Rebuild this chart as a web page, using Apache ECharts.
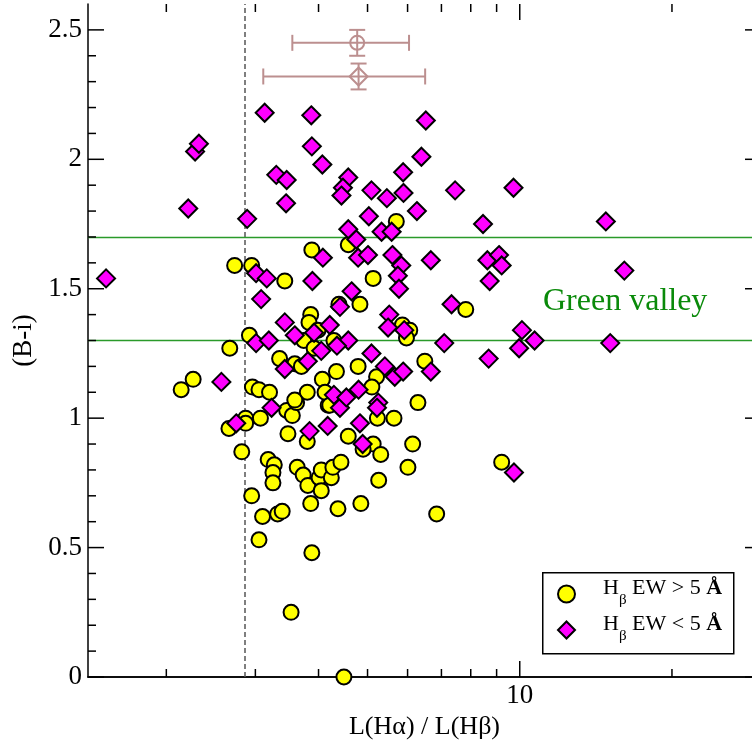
<!DOCTYPE html>
<html>
<head>
<meta charset="utf-8">
<script src="https://cdn.jsdelivr.net/npm/echarts@6/dist/echarts.min.js"></script>
<style>
  html, body { margin: 0; padding: 0; background: #fff; }
  #chart { width: 752px; height: 749px; }
</style>
</head>
<body>
<div id="chart"></div>
<script>
// Balmer decrement L(Hα)/L(Hβ) vs (B-i) colour

// Galaxies with Hβ EW > 5 Å
const strongX = [5.70, 3.88, 4.58, 2.73, 2.95, 3.43, 5.13, 4.83, 4.39, 7.82,
                 3.86, 3.83, 5.86, 6.06, 5.97, 3.99, 2.92, 2.67, 3.74, 4.29,
                 3.92, 3.35, 3.59, 3.70, 4.34, 4.79, 6.49, 5.21, 5.10, 6.29,
                 5.64, 5.23, 6.14, 5.13, 4.90, 5.31, 6.01, 5.26, 6.85, 9.21,
                 4.85, 2.14, 2.26, 2.96, 3.05, 3.20, 2.66, 2.87, 2.87, 3.07,
                 3.46, 3.55, 3.62, 3.48, 2.82, 3.80, 4.18, 4.58, 3.18, 3.27,
                 3.25, 3.25, 3.63, 3.73, 3.81, 4.01, 4.05, 4.24, 4.27, 4.43,
                 4.05, 3.86, 4.37, 2.95, 3.10, 3.32, 3.39, 3.05, 3.88, 3.53,
                 4.49, 3.80, 4.07, 4.12, 4.21, 3.59];
const strongY = [1.76, 1.65, 1.67, 1.59, 1.59, 1.53, 1.54, 1.44, 1.44, 1.42,
                 1.40, 1.37, 1.36, 1.34, 1.31, 1.34, 1.32, 1.27, 1.30, 1.30,
                 1.27, 1.23, 1.21, 1.20, 1.18, 1.20, 1.22, 1.16, 1.12, 1.06,
                 1.00, 1.00, 0.90, 0.90, 0.88, 0.86, 0.81, 0.76, 0.63, 0.83,
                 0.67, 1.11, 1.15, 1.12, 1.11, 1.10, 0.96, 1.00, 0.98, 1.00,
                 1.03, 1.01, 1.06, 0.94, 0.87, 0.91, 1.05, 0.93, 0.84, 0.82,
                 0.79, 0.75, 0.81, 0.78, 0.74, 0.77, 0.80, 0.77, 0.81, 0.83,
                 0.72, 0.67, 0.65, 0.70, 0.62, 0.63, 0.64, 0.53, 0.48, 0.25,
                 0.00, 1.10, 1.15, 1.10, 1.05, 1.07];

// Galaxies with Hβ EW < 5 Å
const weakX = [1.52, 2.28, 2.32, 2.21, 2.89, 3.13, 3.87, 3.88, 4.07, 3.30,
               3.46, 3.45, 4.58, 4.47, 4.44, 5.09, 5.03, 4.58, 4.75, 4.79,
               5.01, 4.08, 3.01, 3.16, 3.89, 3.08, 4.65, 4.41, 3.43, 3.59,
               4.21, 3.92, 3.01, 3.19, 4.58, 4.35, 4.05, 3.81, 3.43, 5.09,
               2.57, 6.52, 6.39, 5.88, 5.46, 5.89, 6.26, 7.45, 9.72, 8.46,
               14.8, 16.1, 5.33, 5.58, 5.60, 5.83, 5.74, 5.77, 6.67, 8.63,
               9.10, 9.21, 8.72, 5.52, 5.49, 5.91, 7.33, 7.09, 5.41, 5.66,
               5.88, 6.67, 4.80, 5.25, 8.68, 10.1, 10.7, 9.97, 15.1, 9.74,
               5.22, 4.83, 4.89, 2.75, 3.23, 3.84, 4.17, 4.41, 4.29, 4.54];
const weakY = [1.54, 2.03, 2.06, 1.81, 1.77, 2.18, 2.17, 2.05, 1.98, 1.94,
               1.92, 1.83, 1.93, 1.89, 1.86, 1.88, 1.78, 1.73, 1.69, 1.62,
               1.63, 1.62, 1.56, 1.54, 1.53, 1.46, 1.49, 1.43, 1.37, 1.32,
               1.36, 1.33, 1.29, 1.30, 1.30, 1.28, 1.26, 1.22, 1.19, 1.25,
               1.14, 2.15, 2.01, 1.95, 1.85, 1.87, 1.80, 1.88, 1.89, 1.75,
               1.76, 1.57, 1.72, 1.72, 1.63, 1.59, 1.55, 1.50, 1.61, 1.61,
               1.63, 1.59, 1.53, 1.40, 1.35, 1.34, 1.44, 1.29, 1.20, 1.16,
               1.18, 1.18, 1.11, 1.06, 1.23, 1.34, 1.30, 1.27, 1.29, 0.79,
               1.04, 0.98, 0.90, 0.98, 1.04, 0.95, 0.97, 1.04, 1.09, 1.08];

// Typical error bars for each class
const errCenterX = [4.77, 4.80];
const errCenterY = [2.45, 2.32];
const errLowX    = [3.55, 3.11];
const errHighX   = [6.04, 6.50];
const errLowY    = [2.40, 2.27];
const errHighY   = [2.50, 2.37];
const errMarker  = ['circle', 'diamond'];

// Axis ticks
const xMajorTicks = [10];
const xMinorTicks = [2, 3, 4, 5, 6, 7, 8, 9, 20];
const yMajorTicks = [0, 0.5, 1, 1.5, 2, 2.5];
const yMinorTicks = [0.1, 0.2, 0.3, 0.4, 0.6, 0.7, 0.8, 0.9, 1.1, 1.2, 1.3, 1.4,
                     1.6, 1.7, 1.8, 1.9, 2.1, 2.2, 2.3, 2.4];
const yLabels = ['0', '0.5', '1', '1.5', '2', '2.5'];

// Reference lines
const caseBDecrement = 2.86;
const valleyLow = 1.3;
const valleyHigh = 1.7;

const FONT = "'Liberation Serif', 'Times New Roman', serif";
const ERR_COLOR = '#bc8f8f';
const GREEN = '#0a8a0a';
const LINE_GREEN = '#2a9a2a';
const MAJOR_LEN = 16;
const MINOR_LEN = 8;

const toPairs = (xs, ys) => xs.map((x, i) => [x, ys[i]]);
const errData = errCenterX.map((x, i) =>
  [x, errCenterY[i], errLowX[i], errHighX[i], errLowY[i], errHighY[i]]);
const xTickData = xMajorTicks.concat(xMinorTicks).map(v => [v, 1]);
const yTickData = yMajorTicks.concat(yMinorTicks).map(v => [2, v]);

const axisLineStyle = { color: '#000', width: 1.5 };
const tickStyle = { stroke: '#000', lineWidth: 1.5 };

function logAxis(position, withLabel) {
  const ax = {
    type: 'log', logBase: 10, min: 1.4, max: 30, position,
    axisLine: { show: true, lineStyle: axisLineStyle },
    axisTick: { show: false },
    axisLabel: { show: withLabel, customValues: xMajorTicks, color: '#000',
                 fontFamily: FONT, fontSize: 27, margin: 5 },
    splitLine: { show: false }, minorTick: { show: false }, minorSplitLine: { show: false }
  };
  if (withLabel) {
    ax.name = 'L(Hα) / L(Hβ)';
    ax.nameLocation = 'middle';
    ax.nameGap = 33;
    ax.nameTextStyle = { color: '#000', fontFamily: FONT, fontSize: 26 };
  }
  return ax;
}

function valueAxis(position, withLabel) {
  const ax = {
    type: 'value', min: 0, max: 2.6, position,
    axisLine: { show: true, lineStyle: axisLineStyle },
    axisTick: { show: false },
    axisLabel: withLabel
      ? { show: true, customValues: yMajorTicks, color: '#000', fontFamily: FONT, fontSize: 27, margin: 6,
          formatter: v => yLabels[yMajorTicks.indexOf(+(+v).toFixed(1))] ?? '' }
      : { show: false },
    splitLine: { show: false }, minorTick: { show: false }, minorSplitLine: { show: false }
  };
  if (withLabel) {
    ax.name = '(B-i)';
    ax.nameLocation = 'middle';
    ax.nameGap = 48;
    ax.nameTextStyle = { color: '#000', fontFamily: FONT, fontSize: 27 };
  }
  return ax;
}

// Inward tick marks on all four sides of the frame
function tickRenderer(isX) {
  return function (params, api) {
    const cs = params.coordSys;
    const v = api.value(isX ? 0 : 1);
    const major = (isX ? xMajorTicks : yMajorTicks).indexOf(v) >= 0;
    const len = major ? MAJOR_LEN : MINOR_LEN;
    const p = api.coord([api.value(0), api.value(1)]);
    const seg = (x1, y1, x2, y2) => ({ type: 'line', shape: { x1, y1, x2, y2 }, style: tickStyle });
    const children = isX
      ? [seg(p[0], cs.y + cs.height, p[0], cs.y + cs.height - len), seg(p[0], cs.y, p[0], cs.y + len)]
      : [seg(cs.x, p[1], cs.x + len, p[1]), seg(cs.x + cs.width, p[1], cs.x + cs.width - len, p[1])];
    return { type: 'group', children };
  };
}

const chart = echarts.init(document.getElementById('chart'), null, { renderer: 'canvas' });

const legendNames = ['Hβ EW > 5 Å', 'Hβ EW < 5 Å'];

chart.setOption({
  animation: false,
  backgroundColor: '#fff',
  grid: { left: 88, top: 4, right: -9, bottom: 72, outerBoundsMode: 'none', containLabel: false },
  xAxis: [logAxis('bottom', true), logAxis('top', false)],
  yAxis: [valueAxis('left', true), valueAxis('right', false)],
  legend: {
    orient: 'vertical',
    left: 557, top: 576, padding: 0, itemGap: 0,
    itemWidth: 17, itemHeight: 17,
    data: [{ name: legendNames[0], icon: 'circle' }, { name: legendNames[1], icon: 'diamond' }],
    itemStyle: { borderColor: '#000', borderWidth: 2 },
    formatter: name => name === legendNames[0]
      ? '{h|H}{s|β}{t| EW > 5 }{b|Å}'
      : '{h|H}{s|β}{t| EW < 5 }{b|Å}',
    textStyle: {
      color: '#000', fontFamily: FONT, fontSize: 22, lineHeight: 36,
      rich: {
        h: { fontFamily: FONT, fontSize: 22, lineHeight: 36, verticalAlign: 'top', padding: [1.5, 0, 0, 23] },
        s: { fontFamily: FONT, fontSize: 15, lineHeight: 36, verticalAlign: 'top', padding: [16.5, 0, 0, 0] },
        t: { fontFamily: FONT, fontSize: 22, lineHeight: 36, verticalAlign: 'top', padding: [1.5, 0, 0, 0] },
        b: { fontFamily: FONT, fontSize: 22, lineHeight: 36, verticalAlign: 'top', padding: [1.5, 0, 0, 0], fontWeight: 'bold' }
      }
    }
  },
  graphic: [
    { type: 'rect', left: 542, top: 572, z: 0,
      shape: { width: 191, height: 81 },
      style: { fill: '#fff', stroke: '#000', lineWidth: 1.5 } },
    { type: 'text', left: 543, top: 286, z: 10,
      style: { text: 'Green valley', fill: GREEN, font: `32px ${FONT}` } }
  ],
  series: [
    {
      name: 'x ticks', type: 'custom', xAxisIndex: 0, yAxisIndex: 0, z: 4, silent: true,
      data: xTickData, encode: { x: 0, y: 1 }, renderItem: tickRenderer(true)
    },
    {
      name: 'y ticks', type: 'custom', xAxisIndex: 0, yAxisIndex: 0, z: 4, silent: true,
      data: yTickData, encode: { x: 0, y: 1 }, renderItem: tickRenderer(false)
    },
    {
      name: 'case B', type: 'scatter', data: [], xAxisIndex: 0, yAxisIndex: 0,
      markLine: {
        silent: true, symbol: 'none', z: 1, animation: false,
        label: { show: false },
        lineStyle: { color: '#555', width: 1.5, type: [5, 3] },
        data: [{ xAxis: caseBDecrement }]
      }
    },
    {
      name: 'green valley', type: 'scatter', data: [], xAxisIndex: 0, yAxisIndex: 0,
      markLine: {
        silent: true, symbol: 'none', z: 1, animation: false,
        label: { show: false },
        lineStyle: { color: LINE_GREEN, width: 1.3, type: 'solid' },
        data: [{ yAxis: valleyLow }, { yAxis: valleyHigh }]
      }
    },
    {
      name: 'typical errors', type: 'custom', xAxisIndex: 0, yAxisIndex: 0, z: 3,
      data: errData,
      encode: { x: [0, 2, 3], y: [1, 4, 5] },
      renderItem(params, api) {
        const c = api.coord([api.value(0), api.value(1)]);
        const l = api.coord([api.value(2), api.value(1)]);
        const r = api.coord([api.value(3), api.value(1)]);
        const b = api.coord([api.value(0), api.value(4)]);
        const t = api.coord([api.value(0), api.value(5)]);
        const cap = 8;
        const st = { stroke: ERR_COLOR, lineWidth: 2, fill: null };
        const seg = (x1, y1, x2, y2) => ({ type: 'line', shape: { x1, y1, x2, y2 }, style: st });
        const children = [
          seg(l[0], l[1], r[0], r[1]),
          seg(l[0], l[1] - cap, l[0], l[1] + cap),
          seg(r[0], r[1] - cap, r[0], r[1] + cap),
          seg(b[0], b[1], t[0], t[1]),
          seg(b[0] - cap, b[1], b[0] + cap, b[1]),
          seg(t[0] - cap, t[1], t[0] + cap, t[1])
        ];
        if (errMarker[params.dataIndex] === 'circle') {
          children.push({ type: 'circle', shape: { cx: c[0], cy: c[1], r: 7 }, style: st });
        } else {
          const h = 9;
          children.push({ type: 'polygon',
            shape: { points: [[c[0], c[1] - h], [c[0] + h, c[1]], [c[0], c[1] + h], [c[0] - h, c[1]]] },
            style: st });
        }
        return { type: 'group', children };
      }
    },
    {
      name: legendNames[0], type: 'scatter', xAxisIndex: 0, yAxisIndex: 0, z: 2,
      symbol: 'circle', symbolSize: 15,
      itemStyle: { color: '#ffff00', borderColor: '#000', borderWidth: 2, opacity: 1 },
      data: toPairs(strongX, strongY)
    },
    {
      name: legendNames[1], type: 'scatter', xAxisIndex: 0, yAxisIndex: 0, z: 2,
      symbol: 'diamond', symbolSize: 18,
      itemStyle: { color: '#ff00ff', borderColor: '#000', borderWidth: 2, opacity: 1 },
      data: toPairs(weakX, weakY)
    }
  ]
});
</script>
</body>
</html>
